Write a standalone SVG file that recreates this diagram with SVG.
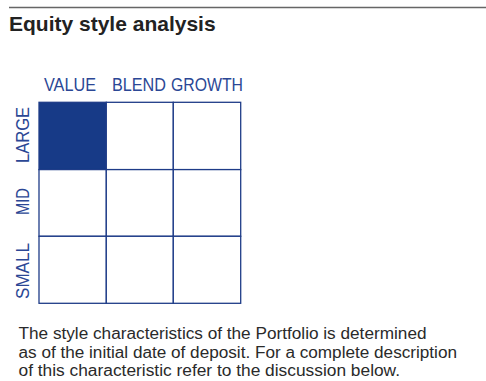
<svg xmlns="http://www.w3.org/2000/svg" width="486" height="381" viewBox="0 0 486 381">
<style>
.title{font-family:"Liberation Sans",Arial,sans-serif;font-weight:bold;font-size:21px;fill:#222}
.lbl{font-family:"Liberation Sans",Arial,sans-serif;font-size:17.5px;fill:#2b4795}
.body{font-family:"Liberation Sans",Arial,sans-serif;font-size:16px;fill:#2a2a2a}
.cell{fill:#fff;stroke:#1f3c88;stroke-width:1.3}
.on{fill:#173a87}
</style>
<rect width="486" height="381" fill="#fff"/>
<line x1="9" y1="7.5" x2="486" y2="7.5" stroke="#666" stroke-width="1.6"/>
<text class="title" x="9" y="31">Equity style analysis</text>
<g id="col-labels">
<text class="lbl" x="44" y="90.5" textLength="52" lengthAdjust="spacingAndGlyphs">VALUE</text>
<text class="lbl" x="112" y="90.5" textLength="54" lengthAdjust="spacingAndGlyphs">BLEND</text>
<text class="lbl" x="171" y="90.5" textLength="72" lengthAdjust="spacingAndGlyphs">GROWTH</text>
</g>
<g id="row-labels">
<text class="lbl" transform="translate(29,135) rotate(-90)" text-anchor="middle" textLength="56" lengthAdjust="spacingAndGlyphs">LARGE</text>
<text class="lbl" transform="translate(29,201.5) rotate(-90)" text-anchor="middle" textLength="27" lengthAdjust="spacingAndGlyphs">MID</text>
<text class="lbl" transform="translate(29,271) rotate(-90)" text-anchor="middle" textLength="56" lengthAdjust="spacingAndGlyphs">SMALL</text>
</g>
<g id="grid">
<rect id="large-value" class="cell on" x="39" y="102.3" width="67.3" height="67.3"/>
<rect id="large-blend" class="cell" x="106.3" y="102.3" width="67" height="67.3"/>
<rect id="large-growth" class="cell" x="173.3" y="102.3" width="67.4" height="67.3"/>
<rect id="mid-value" class="cell" x="39" y="169.6" width="67.3" height="66.7"/>
<rect id="mid-blend" class="cell" x="106.3" y="169.6" width="67" height="66.7"/>
<rect id="mid-growth" class="cell" x="173.3" y="169.6" width="67.4" height="66.7"/>
<rect id="small-value" class="cell" x="39" y="236.3" width="67.3" height="67"/>
<rect id="small-blend" class="cell" x="106.3" y="236.3" width="67" height="67"/>
<rect id="small-growth" class="cell" x="173.3" y="236.3" width="67.4" height="67"/>
</g>
<g id="note">
<text class="body" x="18.5" y="339" textLength="408" lengthAdjust="spacingAndGlyphs">The style characteristics of the Portfolio is determined</text>
<text class="body" x="18.5" y="357.5" textLength="438.5" lengthAdjust="spacingAndGlyphs">as of the initial date of deposit. For a complete description</text>
<text class="body" x="18.5" y="376" textLength="381.5" lengthAdjust="spacingAndGlyphs">of this characteristic refer to the discussion below.</text>
</g>
</svg>
